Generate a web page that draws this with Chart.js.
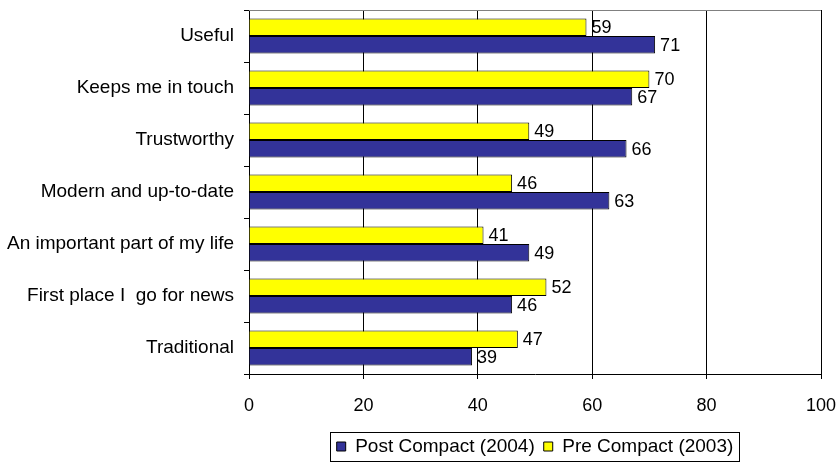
<!DOCTYPE html>
<html>
<head>
<meta charset="utf-8">
<script src="https://cdn.jsdelivr.net/npm/chart.js@4.4.1/dist/chart.umd.min.js"></script>
<style>
  html, body { margin: 0; padding: 0; background: #fff; }
  #wrap { width: 836px; height: 462px; }
</style>
</head>
<body>
<div id="wrap"><canvas id="myChart"></canvas></div>
<script>
var categories = ['Useful', 'Keeps me in touch', 'Trustworthy', 'Modern and up-to-date',
    'An important part of my life', 'First place I  go for news', 'Traditional'];
var preCompact = [59, 70, 49, 46, 41, 52, 47];
var postCompact = [71, 67, 66, 63, 49, 46, 39];
var xTicks = [0, 20, 40, 60, 80, 100];

var FONT = "'Liberation Sans', Arial, sans-serif";

// value labels next to each bar end
var barValues = {
    id: 'barValues',
    afterDatasetsDraw: function (chart) {
        var ctx = chart.ctx;
        ctx.save();
        ctx.font = '18px ' + FONT;
        ctx.fillStyle = '#000';
        ctx.textBaseline = 'middle';
        ctx.textAlign = 'left';
        chart.data.datasets.forEach(function (ds, i) {
            chart.getDatasetMeta(i).data.forEach(function (bar, j) {
                ctx.fillText(ds.data[j], bar.x + 5, bar.y + 1);
            });
        });
        ctx.restore();
    }
};

// grey line along the top of the plot and a frame round the legend
var frame = {
    id: 'frame',
    beforeDatasetsDraw: function (chart) {
        var a = chart.chartArea, ctx = chart.ctx;
        ctx.save();
        ctx.strokeStyle = '#808080';
        ctx.lineWidth = 1;
        ctx.beginPath();
        ctx.moveTo(a.left, Math.round(a.top) + 0.5);
        ctx.lineTo(a.right, Math.round(a.top) + 0.5);
        ctx.stroke();
        ctx.restore();
    },
    afterDraw: function (chart) {
        var boxes = chart.legend.legendHitBoxes;
        if (!boxes || !boxes.length) return;
        var l = Infinity, r = -Infinity, t = Infinity;
        boxes.forEach(function (h) {
            l = Math.min(l, h.left); r = Math.max(r, h.left + h.width);
            t = Math.min(t, h.top);
        });
        var ctx = chart.ctx;
        ctx.save();
        ctx.strokeStyle = '#000';
        ctx.lineWidth = 1;
        ctx.strokeRect(Math.round(l - 7) + 0.5, Math.round(t - 5) + 0.5, Math.round(r - l + 12), 29);
        ctx.restore();
    }
};

var ctx = document.getElementById('myChart').getContext('2d');
var myChart = new Chart(ctx, {
    type: 'bar',
    data: {
        labels: categories,
        datasets: [{
            label: 'Pre Compact (2003)',
            data: preCompact,
            backgroundColor: '#ffff00',
            borderColor: '#000',
            borderWidth: 1
        }, {
            label: 'Post Compact (2004)',
            data: postCompact,
            backgroundColor: '#333399',
            borderColor: '#000',
            borderWidth: 1
        }]
    },
    options: {
        indexAxis: 'y',
        responsive: true,
        maintainAspectRatio: false,
        animation: false,
        categoryPercentage: 0.67,
        barPercentage: 1.0,
        layout: { padding: { top: 10, right: 15, left: 0, bottom: -4 } },
        scales: {
            x: {
                min: 0,
                max: 100,
                afterBuildTicks: function (s) {
                    s.ticks = xTicks.map(function (v) { return { value: v }; });
                },
                ticks: { color: '#000', padding: 16, font: { family: FONT, size: 18 } },
                grid: { color: '#000', tickLength: 5, tickColor: '#000' },
                border: { color: '#000' },
                afterFit: function (s) {
                    s.height = 54;
                    s.paddingLeft = 0;
                    s.paddingRight = 0;
                }
            },
            y: {
                ticks: { color: '#000', padding: 10, font: { family: FONT, size: 19 } },
                grid: { drawOnChartArea: false, tickLength: 5, tickColor: '#000', offset: true },
                border: { color: '#000' },
                afterFit: function (s) {
                    s.width = 249;
                    s.paddingTop = 0;
                    s.paddingBottom = 0;
                }
            }
        },
        plugins: {
            legend: {
                position: 'bottom',
                fullSize: false,
                reverse: true,
                labels: {
                    color: '#000',
                    boxWidth: 9,
                    boxHeight: 9,
                    padding: 9,
                    font: { family: FONT, size: 19 }
                }
            },
            tooltip: { enabled: false }
        }
    },
    plugins: [barValues, frame]
});
</script>
</body>
</html>
